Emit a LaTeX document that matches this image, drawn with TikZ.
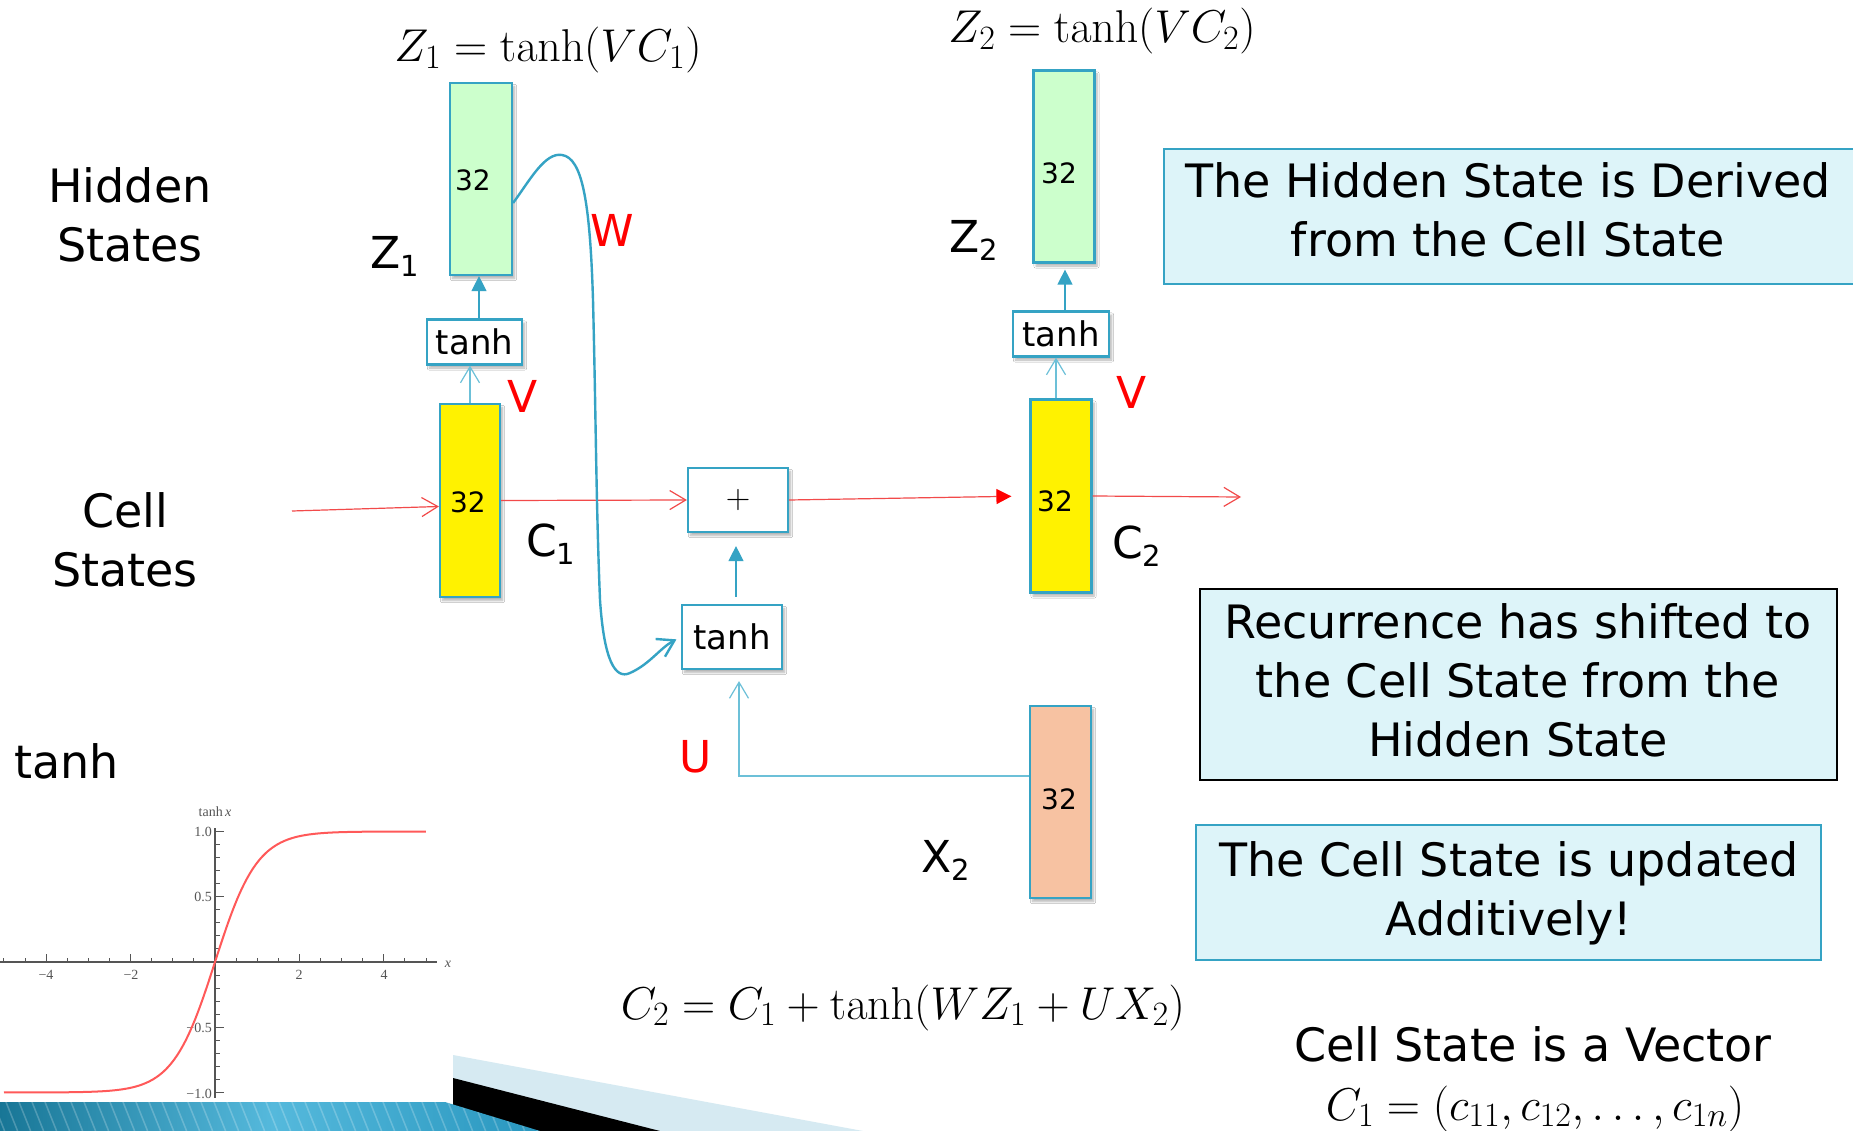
\RequirePackage{fix-cm}
\documentclass[tikz,border=0pt]{standalone}
\usepackage[no-math]{fontspec}
\setmainfont{DejaVu Sans}
\newfontfamily\plotfont{Liberation Serif}
\usetikzlibrary{arrows.meta,shadows.blur}
\definecolor{tealb}{HTML}{35A3C4}
\definecolor{teall}{HTML}{6CC0D8}
\definecolor{redl}{HTML}{F24A4A}
\definecolor{greenf}{HTML}{CCFFCC}
\definecolor{orangef}{HTML}{F7C2A2}
\definecolor{boxf}{HTML}{DDF4F9}
\definecolor{axisc}{HTML}{555555}
\renewcommand{\defaultscriptratio}{.74}
\newcommand{\fs}[1]{\fontsize{#1}{#1}\selectfont}
\newcommand{\sbs}[1]{\raisebox{-8pt}{\fs{29}#1}}
\begin{document}
\begin{tikzpicture}[x=1pt,y=-1pt,
  cellbox/.style={draw=tealb, line width=2.2pt, inner sep=0pt,
    blur shadow={shadow xshift=2.5pt, shadow yshift=-3.5pt, shadow blur steps=6, shadow opacity=30}},
  opbox/.style={cellbox, fill=white, font=\fs{34}},
  numtxt/.style={font=\fs{28}, inner sep=0pt},
  tbox/.style={line width=2pt, fill=boxf, inner sep=0pt},
  tline/.style={font=\fs{46}, anchor=base, inner sep=0pt},
  lab/.style={font=\fs{44}, anchor=base west, inner sep=0pt},
  redlab/.style={font=\fs{44}, text=red, inner sep=0pt},
  mathtxt/.style={font=\fs{46}, anchor=base, inner sep=0pt},
  redline/.style={draw=redl, line width=1.2pt},
  tealline/.style={draw=teall, line width=1.2pt},
  openbarb/.style={-{Straight Barb[length=16pt,width=19pt]}},
  filltri/.style={-{Triangle[length=15pt,width=15pt]}},
  axis/.style={draw=axisc, line width=1.4pt},
  plotlab/.style={font=\plotfont\fs{14}, text=axisc, inner sep=0pt}
]
\useasboundingbox (0,0) rectangle (1853,1131);
\fill[white] (0,0) rectangle (1853,1131);

% ---------- tanh plot ----------
\draw[axis] (0,962) -- (437,962);
\draw[axis] (215,828) -- (215,1098);
\foreach \k in {-10,...,10} {\draw[axis,line width=1pt] ({215+21.1*\k},962) -- ({215+21.1*\k},958);}
\foreach \v in {-4,-2,2,4} {\draw[axis,line width=1.2pt] ({215+42.2*\v},962) -- ({215+42.2*\v},954);}
\foreach \k in {-10,...,-1,1,2,...,10} {\draw[axis,line width=1pt] (215,{962-13.05*\k}) -- (220,{962-13.05*\k});}
\foreach \k in {-10,-5,5,10} {\draw[axis,line width=1.2pt] (215,{962-13.05*\k}) -- (224,{962-13.05*\k});}
\node[plotlab] (pl1) at (46,975) {−4};
\node[plotlab] (pl2) at (131,975) {−2};
\node[plotlab] (pl3) at (299,975) {2};
\node[plotlab] (pl4) at (384,975) {4};
\node[plotlab, anchor=east] (pl5) at (212,832) {1.0};
\node[plotlab, anchor=east] (pl6) at (212,897) {0.5};
\node[plotlab, anchor=east] (pl7) at (212,1028) {−0.5};
\node[plotlab, anchor=east] (pl8) at (212,1094) {−1.0};
\node[plotlab] (pl9) at (215,812) {tanh\,\textit{x}};
\node[plotlab] (pl10) at (448,964) {\textit{x}};
\draw[draw=red!65, line width=2pt] plot[domain=-5:5, samples=120, smooth] ({215+42.2*\x},{962-130.5*tanh(\x)});

% ---------- side labels ----------
\node[tline] (hid1) at (130,203) {Hidden};
\node[tline] (hid2) at (130,262) {States};
\node[tline] (cel1) at (125,527) {Cell};
\node[tline] (cel2) at (125,586) {States};
\node[tline, anchor=base west] (tanhlab) at (14,778) {tanh};

% ---------- cells ----------
\node[cellbox, fill=greenf, minimum width=62pt, minimum height=192pt] (g1) at (481,179) {};
\node[cellbox, fill=yellow, minimum width=60pt, minimum height=193pt] (y1) at (470,500.5) {};
\node[opbox, minimum width=95pt, minimum height=45pt] (t1) at (474.5,342) {tanh};
\node[cellbox, fill=greenf, minimum width=61pt, minimum height=192pt] (g2) at (1064,166.5) {};
\node[cellbox, fill=yellow, minimum width=61pt, minimum height=193pt] (y2) at (1061,496) {};
\node[opbox, minimum width=96pt, minimum height=45pt] (t2) at (1061,334) {tanh};
\node[opbox, minimum width=100pt, minimum height=64pt] (plus) at (738,500) {$+$};
\node[opbox, minimum width=100pt, minimum height=64pt] (t3) at (732,637) {tanh};
\node[cellbox, fill=orangef, minimum width=61pt, minimum height=192pt] (x2) at (1060.5,802) {};

\node[numtxt] (g1n) at (473,180) {32};
\node[numtxt] (y1n) at (468,502) {32};
\node[numtxt] (g2n) at (1059,173) {32};
\node[numtxt] (y2n) at (1055,501) {32};
\node[numtxt] (x2n) at (1059,799) {32};

% ---------- labels ----------
\node[lab] (z1l) at (370,269) {Z\sbs{1}};
\node[lab] (z2l) at (949,253) {Z\sbs{2}};
\node[lab] (c1l) at (526,556) {C\sbs{1}};
\node[lab] (c2l) at (1112,558) {C\sbs{2}};
\node[lab] (x2l) at (921,872) {X\sbs{2}};
\node[redlab] (v1l) at (523,396) {V};
\node[redlab] (v2l) at (1132,392) {V};
\node[redlab] (wl) at (612,230) {W};
\node[redlab] (ul) at (696,757) {U};

\node[mathtxt] (f1) at (548,62) {$Z_1 = \tanh(VC_1)$};
\node[mathtxt] (f2) at (1102,43) {$Z_2 = \tanh(VC_2)$};
\node[mathtxt] (f3) at (903,1019) {$C_2 = C_1 + \tanh(WZ_1 + UX_2)$};
\node[tline] (vec1) at (1533,1061) {Cell State is a Vector};
\node[mathtxt] (vec2) at (1535,1120) {$C_1 = (c_{11}, c_{12}, \ldots, c_{1n})$};

% ---------- text boxes ----------
\node[tbox, draw=tealb, minimum width=694pt, minimum height=135pt] (tb1) at (1511,216.5) {};
\node[tline] (tb1a) at (1508,198) {The Hidden State is Derived};
\node[tline] (tb1b) at (1508,257) {from the Cell State};
\node[tbox, draw=black, minimum width=637pt, minimum height=191pt] (tb2) at (1518.5,684.5) {};
\node[tline] (tb2a) at (1518,638) {Recurrence has shifted to};
\node[tline] (tb2b) at (1518,697) {the Cell State from the};
\node[tline] (tb2c) at (1518,756) {Hidden State};
\node[tbox, draw=tealb, minimum width=625pt, minimum height=135pt] (tb3) at (1508.5,892.5) {};
\node[tline] (tb3a) at (1509,876) {The Cell State is updated};
\node[tline] (tb3b) at (1509,935) {Additively!};

% ---------- connectors ----------
\coordinate (in1) at (292,511);
\coordinate (out2) at (1241,497);
\draw[redline, openbarb] (in1) -- ([yshift=-6pt]y1.west);
\draw[redline, openbarb] (y1.east) -- (plus.west);
\draw[redline, -{Triangle[length=15pt,width=15pt,color=red]}, shorten >=18pt] (plus.east) -- (y2.west);
\draw[redline, openbarb] (y2.east) -- (out2);

\draw[tealline, openbarb] (y1.north) -- (y1.north |- t1.south);
\draw[tealline, filltri, draw=tealb] ([xshift=4.5pt]t1.north) -- ([xshift=-2pt]g1.south);
\draw[tealline, openbarb] ([xshift=-5pt]y2.north) -- ([xshift=-5pt]t2.south);
\draw[tealline, filltri, draw=tealb, shorten >=6pt] ([xshift=4pt]t2.north) -- ([xshift=1pt]g2.south);
\draw[tealline, filltri, draw=tealb, shorten <=7pt, shorten >=13pt] ([xshift=4pt]t3.north) -- ([xshift=-2pt]plus.south);
\draw[tealline, openbarb, shorten >=11pt] ([yshift=26pt]x2.west) -| ([xshift=7pt]t3.south);

\draw[draw=tealb, line width=2.4pt, -{Straight Barb[length=16pt,width=20pt]}, shorten >=5pt]
  ([yshift=-24pt]g1.east) .. controls (530,180) and (545,152) .. (562,155)
  .. controls (582,158) and (590,200) .. (593,300)
  .. controls (596,420) and (596,500) .. (600,600)
  .. controls (604,660) and (615,680) .. (630,673)
  .. controls (650,664) and (660,648) .. (t3.west);

% ---------- bottom decoration ----------
\fill[fill={rgb,255:red,214;green,234;blue,242}] (453,1055) -- (863,1131) -- (453,1131) -- cycle;
\fill[black] (453,1078) -- (660,1131) -- (453,1131) -- cycle;
\begin{scope}
\clip (0,1102) -- (445,1102) -- (540,1131) -- (0,1131) -- cycle;
\shade[left color={rgb,255:red,24;green,118;blue,150}, right color={rgb,255:red,40;green,150;blue,190}, middle color={rgb,255:red,85;green,185;blue,220}] (0,1100) rectangle (545,1131);
\foreach \s in {-20,-7,...,560} {\draw[white, opacity=0.22, line width=1.5pt] (\s,1102) -- ({\s+11.6},1131);}
\end{scope}
\end{tikzpicture}
\end{document}
